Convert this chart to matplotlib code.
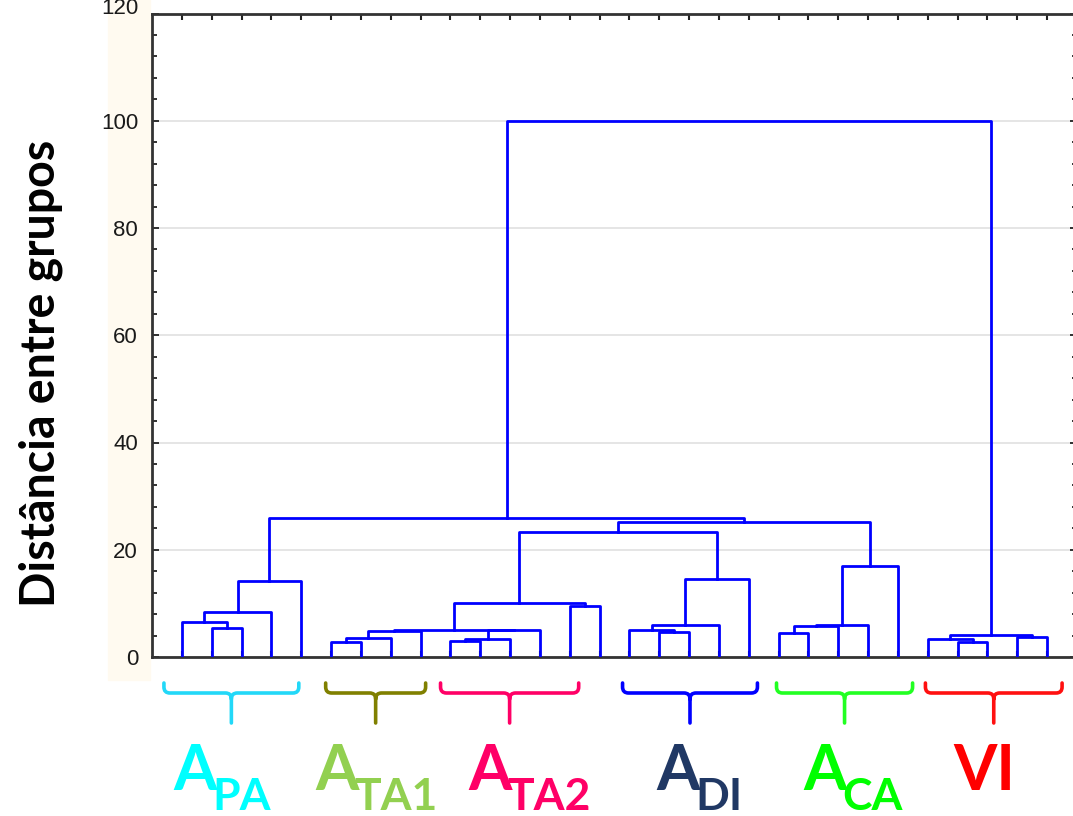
import matplotlib
matplotlib.use('Agg')
import matplotlib.pyplot as plt
import matplotlib.transforms as mtransforms
from matplotlib.path import Path
from matplotlib.patches import PathPatch, Rectangle
from matplotlib.ticker import MultipleLocator
import numpy as np

# folhas 0..29 na ordem do dendrograma; cada ligação cria o grupo 30+k
n_folhas = 30
ligacoes = [
    (1, 2, 5.5),      # 30
    (0, 30, 6.6),     # 31
    (31, 3, 8.3),     # 32
    (32, 4, 14.2),    # 33  A_PA
    (5, 6, 2.8),      # 34
    (34, 7, 3.5),     # 35
    (35, 8, 4.8),     # 36  A_TA1
    (9, 10, 3.0),     # 37
    (37, 11, 3.3),    # 38
    (38, 12, 5.0),    # 39
    (36, 39, 5.1),    # 40
    (13, 14, 9.6),    # 41
    (40, 41, 10.0),   # 42
    (16, 17, 4.6),    # 43
    (15, 43, 5.0),    # 44
    (44, 18, 6.0),    # 45
    (45, 19, 14.5),   # 46  A_DI
    (42, 46, 23.3),   # 47
    (20, 21, 4.4),    # 48
    (48, 22, 5.7),    # 49
    (49, 23, 5.9),    # 50
    (50, 24, 17.0),   # 51  A_CA
    (47, 51, 25.1),   # 52
    (33, 52, 25.9),   # 53
    (26, 27, 2.8),    # 54
    (25, 54, 3.4),    # 55
    (28, 29, 3.7),    # 56
    (55, 56, 4.1),    # 57  VI
    (53, 57, 100.0),  # 58
]

grupo_nome = ['A', 'A', 'A', 'A', 'A', 'VI']
grupo_sub = ['PA', 'TA1', 'TA2', 'DI', 'CA', '']
y_ticks = [0, 20, 40, 60, 80, 100, 120]

# chaves desenhadas sob cada grupo (unidades do eixo x)
chave_ini = [0.40, 5.82, 9.67, 15.77, 20.93, 25.92]
chave_fim = [4.92, 9.17, 14.30, 20.29, 25.49, 30.50]
rotulo_x = [0.72, 5.48, 10.60, 16.90, 21.83, 26.85]
cor_texto = ['#00ffff', '#92d050', '#ff0066', '#203864', '#00ff00', '#ff0000']
cor_chave = ['#22d8f8', '#808000', '#ff0066', '#0000ff', '#22ff22', '#ff1010']

W, H = 1073, 816
fig = plt.figure(figsize=(W / 100, H / 100), dpi=100)
ax = fig.add_axes([152 / W, (H - 657) / H, 925 / W, 643.5 / H])

# faixa creme atrás dos números do eixo y
fig.patches.append(Rectangle((108 / W, (H - 680) / H), 42 / W, 680 / H,
                             transform=fig.transFigure, color='#fffaf0', zorder=-1))

# dendrograma
pos = {i: i + 1 for i in range(n_folhas)}
alt = {i: 0.0 for i in range(n_folhas)}
for k, (a, b, h) in enumerate(ligacoes):
    xa, xb = pos[a], pos[b]
    ax.plot([xa, xa, xb, xb], [alt[a], h, h, alt[b]], color='#0000ff', lw=2.0,
            solid_joinstyle='round', zorder=3)
    pos[n_folhas + k] = (xa + xb) / 2
    alt[n_folhas + k] = h

ax.set_xlim(0, 31)
ax.set_ylim(0, 120)
ax.set_xticks(np.arange(1, n_folhas + 1))
ax.set_xticklabels([])
ax.tick_params(axis='x', direction='in', top=True, length=4, width=1.5, color='#222222')
ax.set_yticks(y_ticks)
ax.set_yticklabels([str(v) if v < 120 else '' for v in y_ticks])
ax.yaxis.set_minor_locator(MultipleLocator(4))
ax.tick_params(axis='y', which='both', direction='in', right=True, width=1.3,
               color='#222222', labelsize=16, pad=10, labelcolor='#1a1a1a')
ax.tick_params(axis='y', which='major', length=5)
ax.tick_params(axis='y', which='minor', length=3.5)
for lab in ax.get_yticklabels():
    lab.set_family('Liberation Sans')
# o 120 fica encostado na borda de cima
ax.annotate('120', xy=(0, 120), xycoords=('axes fraction', 'data'),
            xytext=(-10, 3.5), textcoords='offset points', ha='right', va='center',
            fontsize=16, color='#1a1a1a', family='Liberation Sans', annotation_clip=False)

ax.grid(axis='y', color='#e3e3e3', lw=1.3)
ax.set_axisbelow(True)
for s in ax.spines.values():
    s.set_linewidth(2)
    s.set_color('#333333')

fig.text(41 / W, 1 - 373 / H, 'Distância entre grupos', rotation=90, ha='center',
         va='center', fontsize=33.5, fontweight='bold', family='Lato', color='#000000')

# chaves e nomes dos grupos
trans = mtransforms.blended_transform_factory(ax.transData, ax.transAxes)
px = 1 / 643.5
y_top, y_mid, y_bot = -26 * px, -36 * px, -66 * px
rx, ry = 0.2, 6 * px
for i in range(len(grupo_nome)):
    x0, x1 = chave_ini[i], chave_fim[i]
    xc = (x0 + x1) / 2
    verts = [(x0, y_top), (x0, y_mid + ry), (x0, y_mid), (x0 + rx, y_mid),
             (xc - rx, y_mid), (xc, y_mid), (xc, y_mid - ry), (xc, y_bot),
             (x1, y_top), (x1, y_mid + ry), (x1, y_mid), (x1 - rx, y_mid),
             (xc + rx, y_mid), (xc, y_mid), (xc, y_mid - ry)]
    codes = [Path.MOVETO, Path.LINETO, Path.CURVE3, Path.CURVE3,
             Path.LINETO, Path.CURVE3, Path.CURVE3, Path.LINETO,
             Path.MOVETO, Path.LINETO, Path.CURVE3, Path.CURVE3,
             Path.LINETO, Path.CURVE3, Path.CURVE3]
    ax.add_patch(PathPatch(Path(verts, codes), fill=False, edgecolor=cor_chave[i],
                           lw=2.6, capstyle='round', joinstyle='round',
                           transform=trans, clip_on=False))

    t = ax.text(rotulo_x[i], -133 * px, grupo_nome[i], transform=trans, ha='left',
                va='baseline', fontsize=45, fontweight='bold', family='Lato',
                color=cor_texto[i], clip_on=False)
    if grupo_sub[i]:
        ax.annotate(grupo_sub[i], xy=(1, -153 * px), xycoords=(t, ax.transAxes),
                    xytext=(-3, 0), textcoords='offset points', ha='left',
                    va='baseline', fontsize=32, fontweight='bold', family='Lato',
                    color=cor_texto[i], annotation_clip=False)

fig.savefig('out.png', dpi=100)
